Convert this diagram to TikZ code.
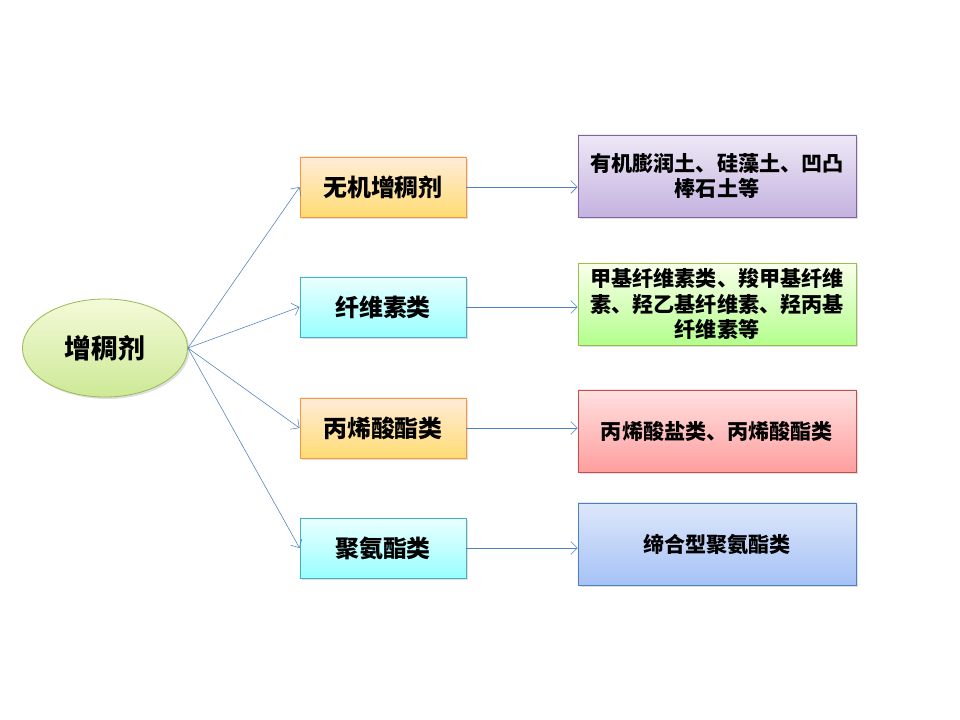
\documentclass[tikz,border=0pt]{standalone}
\usepackage{fontspec}
\newfontfamily\cjk{Noto Sans CJK SC}
\usetikzlibrary{shapes.geometric,arrows.meta,shadows}

\definecolor{linkblue}{HTML}{4F81BD}
\definecolor{orangeline}{HTML}{F79646}
\definecolor{cyanline}{HTML}{4BACC6}
\definecolor{purpleline}{HTML}{8064A2}
\definecolor{greenline}{HTML}{9BBB59}
\definecolor{redline}{HTML}{C0504D}
\definecolor{bluetop}{HTML}{DDE7FA}
\definecolor{bluebottom}{HTML}{A6C2F6}
\definecolor{purpletop}{HTML}{EEE8F6}
\definecolor{purplebottom}{HTML}{C4B2E0}
\definecolor{roottop}{HTML}{F4FAD8}
\definecolor{rootbottom}{HTML}{CDE996}

\tikzset{
  box/.style={draw, rectangle, semithick, drop shadow={opacity=0.25, shadow xshift=0.5mm, shadow yshift=-0.5mm},
    font=\cjk\bfseries, align=center},
  kindbox/.style={box, minimum width=4.15cm, minimum height=1.5cm, font=\cjk\bfseries\fontsize{17}{20}\selectfont},
  examplebox/.style={box, minimum width=6.95cm, minimum height=2.05cm, font=\cjk\bfseries\fontsize{15}{18}\selectfont},
  orangefill/.style={draw=orangeline, top color=orange!15, bottom color=orange!50!yellow!55},
  cyanfill/.style={draw=cyanline, top color=cyan!8, bottom color=cyan!40},
  link/.style={->, linkblue, >={Straight Barb[length=1.6mm, width=3.2mm]}},
}

\begin{document}
\begin{tikzpicture}[x=0.025cm, y=-0.025cm]
    \useasboundingbox (0,0) rectangle (960,720);

    % Root
    \node[draw=greenline, semithick, ellipse, minimum width=4.125cm, minimum height=2.45cm,
      top color=roottop, bottom color=rootbottom,
      drop shadow={opacity=0.25, shadow xshift=0.5mm, shadow yshift=-0.5mm},
      font=\cjk\bfseries\fontsize{19}{22}\selectfont] (root) at (105,348) {增稠剂};

    % Kinds
    \node[kindbox, orangefill] (inorg) at (383,187) {无机增稠剂};
    \node[kindbox, cyanfill] (cellu) at (383,307) {纤维素类};
    \node[kindbox, orangefill] (acryl) at (383,428) {丙烯酸酯类};
    \node[kindbox, cyanfill] (poly) at (383,548) {聚氨酯类};

    % Examples
    \node[examplebox, draw=purpleline, top color=purpletop, bottom color=purplebottom] (inorgex) at (717,176)
      {有机膨润土、硅藻土、凹凸\\棒石土等};
    \node[examplebox, draw=greenline, top color=lime!8, bottom color=lime!45!green!45] (celluex) at (717,304)
      {甲基纤维素类、羧甲基纤维\\素、羟乙基纤维素、羟丙基\\纤维素等};
    \node[examplebox, draw=redline, top color=red!12, bottom color=red!38] (acrylex) at (717,431)
      {丙烯酸盐类、丙烯酸酯类};
    \node[examplebox, draw=linkblue, top color=bluetop, bottom color=bluebottom] (polyex) at (717,544)
      {缔合型聚氨酯类};

    % Arrows
    \draw[link] (root.east) -- (inorg.west);
    \draw[link] (root.east) -- (cellu.west);
    \draw[link] (root.east) -- (acryl.west);
    \draw[link] (root.east) -- (poly.west);
    \draw[link] (inorg.east) -- (inorg.east -| inorgex.west);
    \draw[link] (cellu.east) -- (cellu.east -| celluex.west);
    \draw[link] (acryl.east) -- (acryl.east -| acrylex.west);
    \draw[link] (poly.east) -- (poly.east -| polyex.west);
\end{tikzpicture}
\end{document}
